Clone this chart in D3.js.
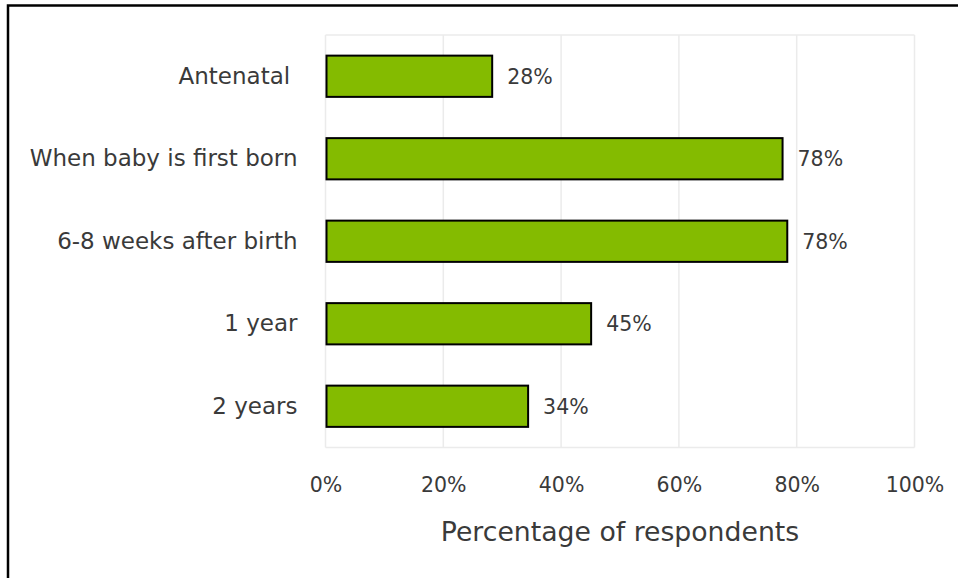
<!DOCTYPE html>
<html>
<head>
<meta charset="utf-8">
<script src="https://cdn.jsdelivr.net/npm/d3@7/dist/d3.min.js"></script>
<style>
  html, body { margin: 0; padding: 0; background: #fff; }
  svg { display: block; }
  text { font-family: "DejaVu Sans", "Noto Sans", sans-serif; fill: #3a3a3a; white-space: pre; }
</style>
</head>
<body>
<svg id="chart" width="958" height="578"></svg>
<script>
// Share of respondents by stage
const categories = ["Antenatal ", "When baby is first born", "6-8 weeks after birth", "1 year", "2 years"];
const values = [28.3, 77.6, 78.4, 45.1, 34.4];
const tickValues = [0, 20, 40, 60, 80, 100];
const axisTitle = "Percentage of respondents";

const svg = d3.select("#chart");
const W = 958, H = 578;
const plot = { left: 325.5, right: 914.5, top: 35, bottom: 447.5 };

// outer frame (runs off the right and bottom edges)
svg.append("rect")
  .attr("x", 8).attr("y", 5.5)
  .attr("width", W).attr("height", H)
  .attr("fill", "none").attr("stroke", "#000").attr("stroke-width", 2.5);

const x = d3.scaleLinear().domain([0, 100]).range([plot.left, plot.right]);
const y = d3.scaleBand().domain(categories).range([plot.top, plot.bottom])
  .paddingInner(0.5).paddingOuter(0.25);

// gridlines
svg.append("g")
  .selectAll("line").data(tickValues).join("line")
  .attr("x1", d => x(d)).attr("x2", d => x(d))
  .attr("y1", plot.top).attr("y2", plot.bottom)
  .attr("stroke", "#ebebeb").attr("stroke-width", 1.5);

// plot area border top/bottom
svg.append("g").selectAll("line").data([plot.top, plot.bottom]).join("line")
  .attr("x1", plot.left).attr("x2", plot.right)
  .attr("y1", d => d).attr("y2", d => d)
  .attr("stroke", "#ebebeb").attr("stroke-width", 1.5);

// bars
svg.append("g").selectAll("rect").data(values).join("rect")
  .attr("x", x(0) + 1)
  .attr("y", (d, i) => y(categories[i]))
  .attr("width", d => x(d) - x(0) - 1)
  .attr("height", y.bandwidth())
  .attr("fill", "#84bb00")
  .attr("stroke", "#000").attr("stroke-width", 2);

// value labels
svg.append("g").selectAll("text").data(values).join("text")
  .attr("x", d => x(d) + 15)
  .attr("y", (d, i) => y(categories[i]) + y.bandwidth() / 2)
  .attr("dy", "0.36em")
  .attr("font-size", 20.5)
  .text(d => d3.format(".0f")(d) + "%");

// category axis
const yAxis = svg.append("g")
  .attr("transform", `translate(${plot.left - 28},0)`)
  .call(d3.axisLeft(y).tickSize(0).tickPadding(0));
yAxis.attr("font-family", null);
yAxis.select(".domain").remove();
yAxis.selectAll("text")
  .attr("font-size", 23)
  .attr("fill", "#3a3a3a");

// value axis
const xAxis = svg.append("g")
  .attr("transform", `translate(0,${plot.bottom})`)
  .call(d3.axisBottom(x).tickValues(tickValues).tickSize(0).tickPadding(30)
    .tickFormat(d => d + "%"));
xAxis.attr("font-family", null);
xAxis.select(".domain").remove();
xAxis.selectAll("text")
  .attr("font-size", 20.5)
  .attr("fill", "#3a3a3a");

// axis title
svg.append("text")
  .attr("x", (plot.left + plot.right) / 2)
  .attr("y", 531)
  .attr("dy", "0.36em")
  .attr("text-anchor", "middle")
  .attr("font-size", 26.7)
  .text(axisTitle);
</script>
</body>
</html>
